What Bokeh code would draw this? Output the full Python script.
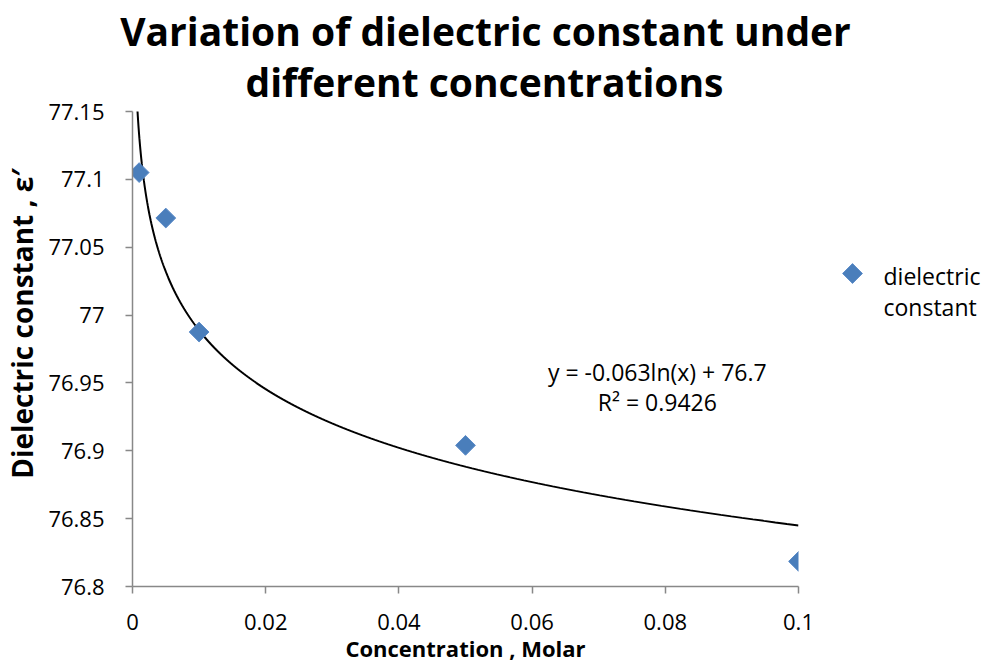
import numpy as np
from bokeh.plotting import figure
from bokeh.layouts import row, column
from bokeh.models import (Range1d, FixedTicker, CustomJSTickFormatter, Label,
                          ColumnDataSource)
from bokeh.core.properties import value
from bokeh.embed import file_html
from bokeh.resources import INLINE

# ---- data ----
concentration = [0.001, 0.005, 0.01, 0.05, 0.1]
dielectric = [77.105, 77.0715, 76.9875, 76.904, 76.8185]
x_ticks = [0, 0.02, 0.04, 0.06, 0.08, 0.1]
y_ticks = [76.8, 76.85, 76.9, 76.95, 77.0, 77.05, 77.1, 77.15]
title_lines = ["Variation of dielectric constant under", "different concentrations"]
x_title = "Concentration , Molar"
y_title = "Dielectric constant , \u03b5\u2032"
series_name = ["dielectric", "constant"]
eq_lines = ["y = -0.063ln(x) + 76.7", "R\u00b2 = 0.9426"]

# logarithmic trendline fitted to the data
slope, intercept = np.polyfit(np.log(concentration), dielectric, 1)
trend_x = np.geomspace(0.0005, max(concentration), 300)
trend_y = slope * np.log(trend_x) + intercept

FONT = "Open Sans"
BLUE_FILL = "#4A7EBB"
BLUE_LINE = "#5B8BC8"
W_TOTAL = 984
H_TITLE = 111
OVERLAP = 15
H_MAIN = 569
W_MAIN = 820
W_LEG = W_TOTAL - W_MAIN
PAGE_BOTTOM = H_TITLE - OVERLAP + H_MAIN


def bare(width, height):
    f = figure(width=width, height=height, output_backend="svg", toolbar_location=None,
               x_range=Range1d(0, width), y_range=Range1d(0, height), title=None,
               min_border=0, x_axis_location=None, y_axis_location=None)
    f.outline_line_color = None
    f.grid.visible = False
    f.frame_align = False
    f.border_fill_alpha = 0
    f.background_fill_alpha = 0
    return f


# ---- title block ----
tf = bare(W_TOTAL, H_TITLE)
tf.text(x=[485, 484], y=[H_TITLE - 30, H_TITLE - 81], text=title_lines,
        text_font=value(FONT), text_font_style="bold", text_font_size="39px",
        text_color="black", text_align="center", text_baseline="middle")

# ---- main chart ----
p = figure(width=W_MAIN, height=H_MAIN, output_backend="svg", toolbar_location=None,
           x_range=Range1d(0, 0.1), y_range=Range1d(76.8, 77.15), title=None,
           min_border_left=131, min_border_right=22,
           min_border_top=OVERLAP, min_border_bottom=78)
p.frame_align = False
p.outline_line_color = None
p.grid.visible = False
p.border_fill_alpha = 0
p.background_fill_alpha = 0

fmt = CustomJSTickFormatter(code="return String(parseFloat(tick.toFixed(4)));")
for ax, ticks in ((p.xaxis[0], x_ticks), (p.yaxis[0], y_ticks)):
    ax.ticker = FixedTicker(ticks=ticks)
    ax.formatter = fmt
    ax.axis_line_color = "#888888"
    ax.axis_line_width = 1.5
    ax.major_tick_line_color = "#888888"
    ax.major_tick_line_width = 1.5
    ax.major_tick_in = 0
    ax.major_tick_out = 7
    ax.minor_tick_line_color = None
    ax.major_label_text_font = FONT
    ax.major_label_text_font_size = "22px"
    ax.major_label_text_color = "black"
    ax.axis_label_text_font = FONT
    ax.axis_label_text_font_style = "bold"
    ax.axis_label_text_color = "black"
p.xaxis[0].major_label_standoff = 20
p.yaxis[0].major_label_standoff = 21

p.xaxis[0].axis_label = x_title
p.xaxis[0].axis_label_text_font_size = "22px"
p.xaxis[0].axis_label_standoff = 0

# leading no-break spaces shift the rotated title toward the top like the reference
p.yaxis[0].axis_label = "\u00a0" * 7 + y_title
p.yaxis[0].axis_label_text_font_size = "28px"
p.yaxis[0].axis_label_standoff = 4

# trendline
p.line(trend_x, trend_y, line_color="black", line_width=2)

# data points (diamonds)
src = ColumnDataSource(dict(x=concentration, y=dielectric))
p.scatter("x", "y", source=src, marker="square", angle=np.pi / 4, size=14,
          fill_color=BLUE_FILL, line_color=BLUE_LINE, line_width=1)

# trendline equation
for txt, yy in zip(eq_lines, (76.958, 76.936)):
    p.add_layout(Label(x=0.0788, y=yy, text=txt,
                       text_align="center", text_baseline="middle",
                       text_font=FONT, text_font_size="23px", text_color="black"))

# ---- legend block (pixel coordinates, y measured from its bottom) ----
lg = bare(W_LEG, H_MAIN)
lg.scatter(x=[852 - W_MAIN], y=[PAGE_BOTTOM - 273], marker="square", angle=np.pi / 4,
           size=14, fill_color=BLUE_FILL, line_color=BLUE_LINE, line_width=1)
lg.text(x=[883 - W_MAIN] * 2, y=[PAGE_BOTTOM - 275, PAGE_BOTTOM - 306], text=series_name,
        text_font=value(FONT), text_font_size="23px", text_color="black",
        text_baseline="middle", text_align="left")

# the chart row overlaps the title strip slightly (transparent borders)
layout = column(tf, row(p, lg, styles={"margin-top": f"-{OVERLAP}px"}))
open("out.html", "w").write(file_html(layout, INLINE))
